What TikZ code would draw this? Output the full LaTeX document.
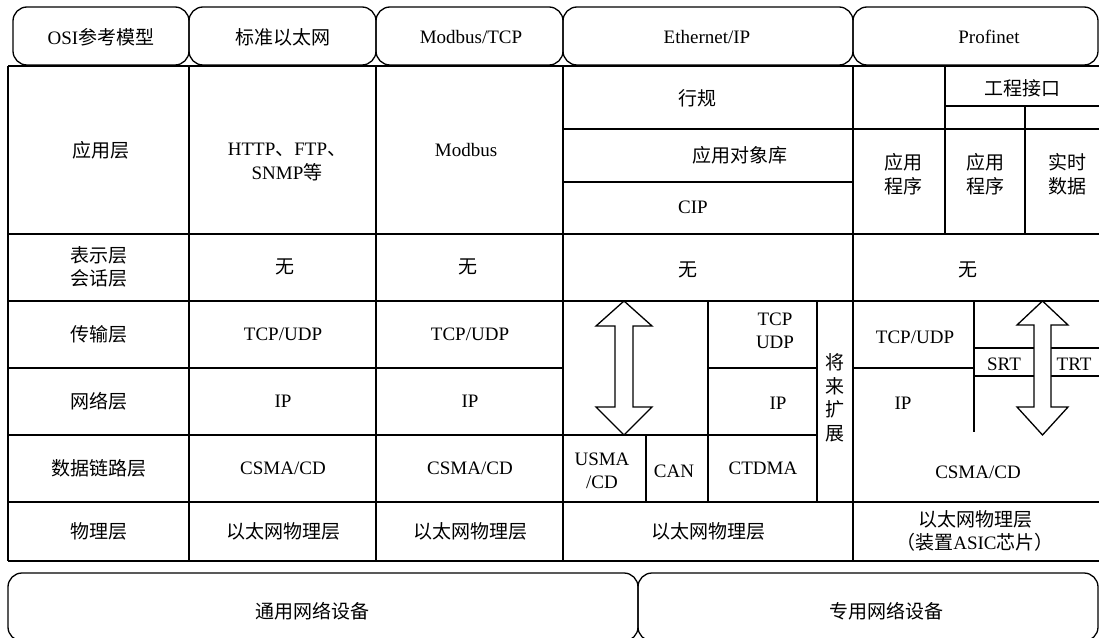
\documentclass[tikz,border=0pt]{standalone}
\usepackage{fontspec}
\setmainfont{Liberation Serif}
\newfontfamily\cjk{Noto Sans CJK SC}
\newcommand\zh[1]{{\cjk #1}}
\begin{document}
\begin{tikzpicture}[x=1pt,y=-1pt,line width=1.3pt,
  txt/.style={inner sep=0pt,align=center,font=\fontsize{19}{23.5}\selectfont},
  tab/.style={draw,line width=1.3pt,rounded corners=14pt,inner sep=0pt},
  blockarrow/.style={draw,fill=white,line width=1.3pt,line join=miter}]
\useasboundingbox (0,0) rectangle (1099,637);
% header tabs
\node[tab,minimum width=176pt,minimum height=58pt] (h1) at (101,36) {};
\node[tab,minimum width=187pt,minimum height=58pt] (h2) at (282.5,36) {};
\node[tab,minimum width=187pt,minimum height=58pt] (h3) at (469.5,36) {};
\node[tab,minimum width=290pt,minimum height=58pt] (h4) at (708,36) {};
\node[tab,minimum width=245pt,minimum height=58pt] (h5) at (975.5,36) {};
\node[txt] (ht1) at (101,37) {OSI\zh{参考模型}};
\node[txt] (ht2) at (283,37) {\zh{标准以太网}};
\node[txt] (ht3) at (471,37) {Modbus/TCP};
\node[txt] (ht4) at (707,37) {Ethernet/IP};
\node[txt] (ht5) at (989,37) {Profinet};
% table frame
\draw (8,66) -- (1099,66);
\draw (8,561) -- (1099,561);
\foreach \x in {8,189,376,563,853} \draw (\x,66) -- (\x,561);
\foreach \y in {234,301,368,435,502} \draw (8,\y) -- (563,\y);
% Ethernet/IP
\foreach \y in {129,182,234,301,502} \draw (563,\y) -- (853,\y);
\draw (563,435) -- (817,435);
\draw (708,368) -- (817,368);
\draw (708,301) -- (708,502);
\draw (817,301) -- (817,502);
\draw (646,435) -- (646,502);
% Profinet
\draw (945,106) -- (1099,106);
\foreach \y in {129,234,301,502} \draw (853,\y) -- (1099,\y);
\draw (945,66) -- (945,234);
\draw (1025,106) -- (1025,234);
\draw (853,368) -- (974,368);
\draw (974,301) -- (974,432);
\draw (974,348) -- (1099,348);
\draw (974,376) -- (1099,376);
% block arrows
\draw[blockarrow] (624,301) -- (652,326) -- (633,326) -- (633,407) -- (652,407) -- (624,435)
  -- (596,407) -- (615,407) -- (615,326) -- (596,326) -- cycle;
\draw[blockarrow] (1042.5,301) -- (1068,325) -- (1051,325) -- (1051,407) -- (1068,407) -- (1042.5,435)
  -- (1017,407) -- (1034,407) -- (1034,325) -- (1017,325) -- cycle;
% column 0
\node[txt] (c0r1) at (101,150) {\zh{应用层}};
\node[txt] (c0r2) at (99,267) {\zh{表示层}\\\zh{会话层}};
\node[txt] (c0r3) at (99,334) {\zh{传输层}};
\node[txt] (c0r4) at (99,401) {\zh{网络层}};
\node[txt] (c0r5) at (99,468) {\zh{数据链路层}};
\node[txt] (c0r6) at (99,531) {\zh{物理层}};
% column 1
\node[txt] (c1r1) at (287,162) {HTTP\zh{、}FTP\zh{、}\\SNMP\zh{等}};
\node[txt] (c1r2) at (285,267) {\zh{无}};
\node[txt] (c1r3) at (283,334) {TCP/UDP};
\node[txt] (c1r4) at (283,401) {IP};
\node[txt] (c1r5) at (283,468) {CSMA/CD};
\node[txt] (c1r6) at (283,531) {\zh{以太网物理层}};
% column 2
\node[txt] (c2r1) at (466,150) {Modbus};
\node[txt] (c2r2) at (468,267) {\zh{无}};
\node[txt] (c2r3) at (470,334) {TCP/UDP};
\node[txt] (c2r4) at (470,401) {IP};
\node[txt] (c2r5) at (470,468) {CSMA/CD};
\node[txt] (c2r6) at (470,531) {\zh{以太网物理层}};
% Ethernet/IP texts
\node[txt] (e1) at (697,98) {\zh{行规}};
\node[txt] (e2) at (740,155) {\zh{应用对象库}};
\node[txt] (e3) at (693,207) {CIP};
\node[txt] (e4) at (688,270) {\zh{无}};
\node[txt] (e5) at (775,331) {TCP\\UDP};
\node[txt] (e6) at (778,403) {IP};
\node[txt] (e7) at (835,398) {\zh{将}\\\zh{来}\\\zh{扩}\\\zh{展}};
\node[txt] (e8) at (602,471) {USMA\\/CD};
\node[txt] (e9) at (674,471) {CAN};
\node[txt] (e10) at (763,468) {CTDMA};
\node[txt] (e11) at (708,531) {\zh{以太网物理层}};
% Profinet texts
\node[txt] (p1) at (1022,88) {\zh{工程接口}};
\node[txt] (p2) at (903,174) {\zh{应用}\\\zh{程序}};
\node[txt] (p3) at (985,174) {\zh{应用}\\\zh{程序}};
\node[txt] (p4) at (1067,174) {\zh{实时}\\\zh{数据}};
\node[txt] (p5) at (968,270) {\zh{无}};
\node[txt] (p6) at (915,337) {TCP/UDP};
\node[txt] (p7) at (903,403) {IP};
\node[txt] (p8) at (1004,364) {SRT};
\node[txt] (p9) at (1074,364) {TRT};
\node[txt] (p10) at (978,472) {CSMA/CD};
\node[txt] (p11) at (975,531) {\zh{以太网物理层}\\\zh{（装置}ASIC\zh{芯片）}};
% bottom tabs
\node[tab,minimum width=630pt,minimum height=68pt] (b1) at (323,607) {};
\node[tab,minimum width=460pt,minimum height=68pt] (b2) at (868,607) {};
\node[txt] (bt1) at (312,611) {\zh{通用网络设备}};
\node[txt] (bt2) at (886,611) {\zh{专用网络设备}};
\end{tikzpicture}
\end{document}
